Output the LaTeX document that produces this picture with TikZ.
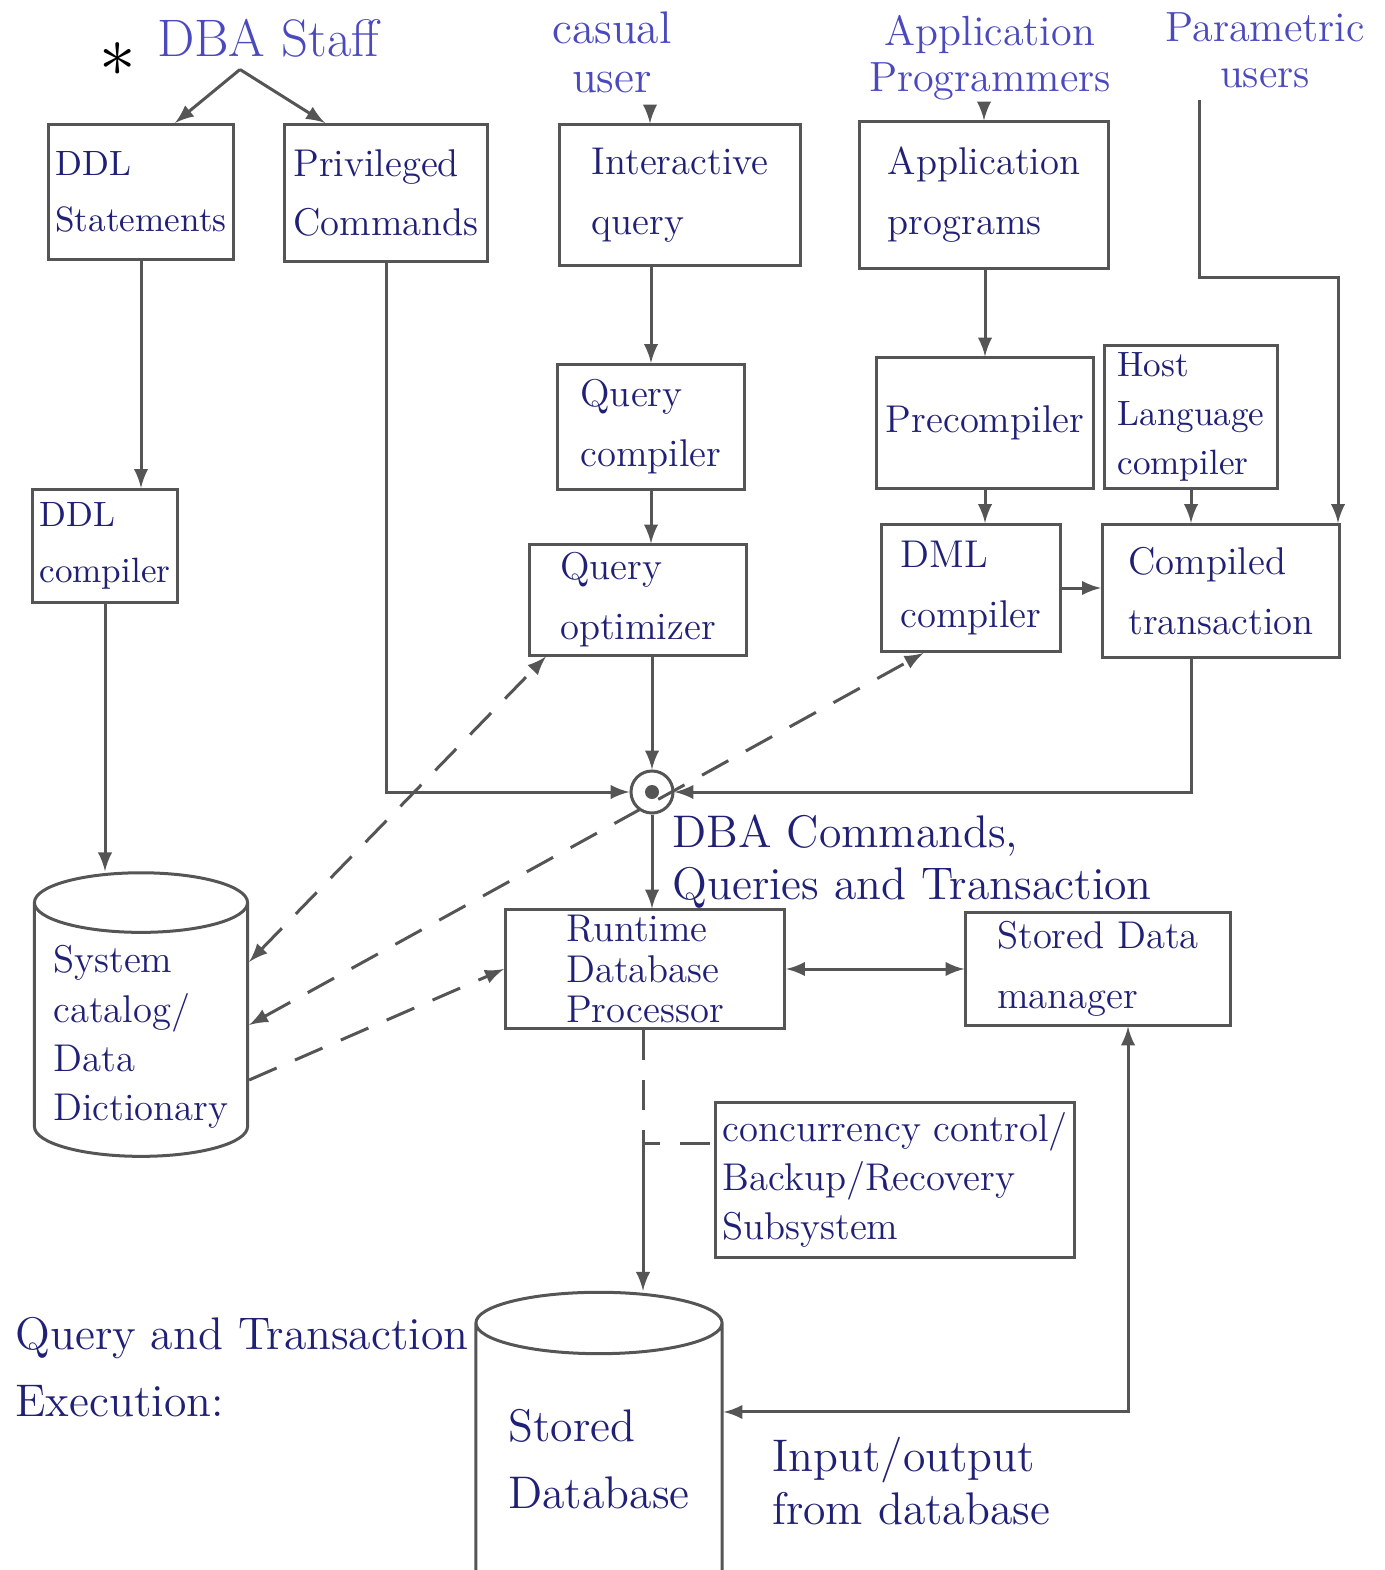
\documentclass[tikz,border=0pt]{standalone}
\usepackage{tikz}
\usetikzlibrary{shapes.geometric, arrows}
\definecolor{ink}{RGB}{32,32,118}
\definecolor{penblue}{RGB}{74,74,190}
\definecolor{pencil}{RGB}{85,85,85}
\newcommand{\boxfont}{\fontsize{11}{17}\selectfont}

\begin{document}
\begin{tikzpicture}[x=0.01cm, y=-0.01cm]
		\tikzstyle{box} = [rectangle, draw=pencil, line width = 0.3mm, text=ink, align=left, font=\boxfont, inner sep=2pt]
		\tikzstyle{store} = [cylinder, shape border rotate=90, aspect=0.3, draw=pencil, line width = 0.3mm, text=ink, align=left, font=\boxfont]
		\tikzstyle{who} = [text=penblue, align=center, font=\fontsize{12}{13}\selectfont]
		\tikzstyle{note} = [text=ink, align=left, anchor=north west, font=\fontsize{13}{15}\selectfont]
		\tikzstyle{link} = [-latex, line width = 0.3mm, draw=pencil]
		\tikzstyle{hint} = [line width = 0.3mm, draw=pencil, dash pattern=on 3mm off 2mm]
		
		\useasboundingbox (0,0) rectangle (1384,1570);
		
		\node[box, minimum width=1.62cm, minimum height=1.35cm, font=\fontsize{10}{16}\selectfont] at (141,192) (ddl) {DDL\\Statements};
		\node[box, minimum width=2.02cm, minimum height=1.37cm] at (386,193) (priv) {Privileged\\Commands};
		\node[box, minimum width=2.4cm, minimum height=1.4cm] at (680,195) (iq) {Interactive\\query};
		\node[box, minimum width=2.48cm, minimum height=1.46cm] at (984,195) (ap) {Application\\programs};
		
		\node[box, minimum width=1.87cm, minimum height=1.25cm] at (651,427) (qc) {Query\\compiler};
		\node[box, minimum width=2.16cm, minimum height=1.3cm] at (985,423) (pc) {Precompiler};
		\node[box, minimum width=1.72cm, minimum height=1.3cm, font=\fontsize{10}{14}\selectfont] at (1191,417) (hlc) {Host\\Language\\compiler};
		
		\node[box, minimum width=1.36cm, minimum height=1.13cm, font=\fontsize{10}{16}\selectfont] at (105,546) (ddlc) {DDL\\compiler};
		\node[box, minimum width=2.17cm, minimum height=1.1cm] at (638,600) (qo) {Query\\optimizer};
		\node[box, minimum width=1.78cm, minimum height=1.27cm] at (971,588) (dml) {DML\\compiler};
		\node[box, minimum width=2.37cm, minimum height=1.33cm] at (1221,591) (ct) {Compiled\\transaction};
		
		\node[box, minimum width=2.79cm, minimum height=1.18cm, inner ysep=0pt, font=\fontsize{11}{11.5}\selectfont] at (645,969) (rdp) {Runtime\\Database\\Processor};
		\node[box, minimum width=2.64cm, minimum height=1.12cm] at (1098,969) (sdm) {Stored Data\\manager};
		\node[box, minimum width=3.34cm, minimum height=1.55cm, font=\fontsize{11}{14}\selectfont] at (895,1180) (ccr) {concurrency control/\\Backup/Recovery\\Subsystem};
		
		\node[store, minimum width=2.13cm, minimum height=2.45cm, font=\fontsize{11}{14}\selectfont] at (141,1037) (cat) {System\\catalog/\\Data\\Dictionary};
		\node[store, minimum width=2.46cm, minimum height=3.2cm, font=\fontsize{13}{19}\selectfont] at (599,1475) (sdb) {\\[-1.4cm]Stored\\Database};
		
		\node[circle, draw=pencil, line width = 0.3mm, minimum size=0.42cm, inner sep=0pt] at (652,792) (hub) {};
		\node[circle, fill=pencil, minimum size=0.14cm, inner sep=0pt] at (hub) (hubdot) {};
		
		% users on top
		\node[black, font=\huge] at (118,60) (star) {$\ast$};
		\node[who, font=\fontsize{15}{16}\selectfont] at (268,38) (dba) {DBA Staff};
		\node[who, font=\fontsize{13}{14}\selectfont] at (612,52) (casual) {casual\\user};
		\node[who] at (990,58) (appl) {Application\\Programmers};
		\node[who] at (1265,50) (param) {Parametric\\users};
		
		\node[note] at (660,802) (cmds) {DBA Commands,\\Queries and Transaction};
		\node[note, font=\fontsize{13}{19}\selectfont] at (3,1305) (title) {Query and Transaction\\Execution:};
		\node[note] at (760,1425) (io) {Input/output\\from database};
		
		\draw[link] ([xshift=-2.8mm]dba.south) -- ([xshift=3.4mm]ddl.north);
		\draw[link] ([xshift=-2.8mm]dba.south) -- ([xshift=-6.1mm]priv.north);
		\coordinate (iqin) at ([xshift=-3mm]iq.north);
		\draw[link] (iqin |- casual.south) -- (iqin);
		\draw[link] (ap.north |- appl.south) -- (ap.north);
		\coordinate (pturn) at (1338,278);
		\coordinate (pdrop) at ([xshift=-6.5mm]param.south);
		\draw[link] (pdrop) |- (pturn) -- (pturn |- ct.north);
		
		\draw[link] (ddl.south) -- (ddl.south |- ddlc.north);
		\draw[link] (ddlc.south) -- (ddlc.south |- cat.north);
		\draw[link] (qc.north |- iq.south) -- (qc.north);
		\draw[link] (qc.south) -- (qc.south |- qo.north);
		\draw[link] (pc.north |- ap.south) -- (pc.north);
		\draw[link] (pc.south) -- (pc.south |- dml.north);
		\draw[link] (hlc.south) -- (hlc.south |- ct.north);
		\draw[link] (dml.east) -- (dml.east -| ct.west);
		
		\draw[link] (hub |- qo.south) -- (hub.north);
		\draw[link] (priv.south) |- (hub.west);
		\coordinate (ctout) at ([xshift=-3mm]ct.south);
		\draw[link] (ctout) |- (hub.east);
		\draw[link] (hub.south) -- (hub |- rdp.north);
		\draw[link, latex-latex] (rdp.east) -- (sdm.west);
		
		\coordinate (split) at (643,1143);
		\draw[hint] (rdp.south -| split) -- (split) -- (split -| ccr.west);
		\draw[link] (split) -- (split |- sdb.north);
		\draw[link, latex-latex] ([yshift=6.3mm]sdb.east) -| ([xshift=3mm]sdm.south);
		
		\draw[hint, latex-latex] ([yshift=7.5mm]cat.east) -- ([xshift=1.8mm]qo.south west);
		\draw[hint, latex-latex] ([yshift=1.2mm]cat.east) -- ([xshift=4.3mm]dml.south west);
		\draw[hint, -latex] ([yshift=-4.3mm]cat.east) -- (rdp.west);
\end{tikzpicture}
\end{document}
